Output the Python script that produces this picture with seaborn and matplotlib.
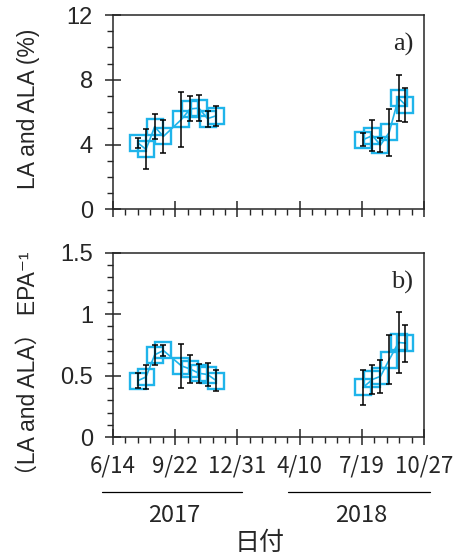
import numpy as np
import pandas as pd
import seaborn as sns
import matplotlib.pyplot as plt
from matplotlib.ticker import MultipleLocator, FuncFormatter

# sampling dates
origin = "2017-06-14"
dates_2017 = ["2017-07-24", "2017-08-06", "2017-08-20", "2017-09-03", "2017-10-02",
              "2017-10-16", "2017-10-30", "2017-11-13", "2017-11-27"]
dates_2018 = ["2018-07-21", "2018-08-05", "2018-08-18", "2018-09-01", "2018-09-16",
              "2018-09-27"]

# a) LA and ALA (%)
la_2017 = [4.1, 3.7, 5.1, 4.5, 5.55, 6.2, 6.25, 5.6, 5.78]
la_sd_2017 = [0.33, 1.23, 0.78, 1.02, 1.68, 0.77, 0.79, 0.5, 0.62]
la_2018 = [4.3, 4.55, 3.97, 4.75, 6.87, 6.45]
la_sd_2018 = [0.42, 0.97, 0.45, 1.44, 1.44, 1.03]

# b) (LA and ALA) EPA-1
ratio_2017 = [0.46, 0.49, 0.67, 0.705, 0.58, 0.555, 0.52, 0.51, 0.46]
ratio_sd_2017 = [0.06, 0.1, 0.08, 0.045, 0.176, 0.115, 0.075, 0.097, 0.085]
ratio_2018 = [0.405, 0.47, 0.495, 0.63, 0.77, 0.765]
ratio_sd_2018 = [0.14, 0.117, 0.133, 0.2, 0.25, 0.15]

xtick_labels = ["6/14", "9/22", "12/31", "4/10", "7/19", "10/27"]
years = ["2017", "2018"]

BLUE = "#1FB4EA"
CJK = ["Noto Sans CJK JP", "DejaVu Sans"]

sns.set_style("ticks")
plt.rcParams['font.family'] = ['Liberation Sans', 'Noto Sans CJK JP', 'DejaVu Sans']


def days(ds):
    return (pd.to_datetime(ds) - pd.Timestamp(origin)).days.values


def panel(ax, series):
    for ds, vals, sds in series:
        df = pd.DataFrame({"day": days(ds), "val": vals, "sd": sds})
        sns.lineplot(data=df, x="day", y="val", ax=ax, color=BLUE, lw=1.2,
                     marker="s", markersize=11.5, markerfacecolor="none",
                     markeredgecolor=BLUE, markeredgewidth=1.7, zorder=2)
        ax.errorbar(df["day"], df["val"], yerr=df["sd"], fmt="none", ecolor="black",
                    elinewidth=1.1, capsize=2, capthick=1.1, zorder=3)
    ax.set_xlim(0, 500)
    ax.xaxis.set_major_locator(MultipleLocator(100))
    ax.xaxis.set_minor_locator(MultipleLocator(20))
    ax.set_xlabel("")
    ax.set_ylabel("")
    for s in ax.spines.values():
        s.set_linewidth(1.1)
    ax.tick_params(which="major", direction="inout", length=11, width=1.1,
                   labelsize=17, pad=7)
    ax.tick_params(axis="y", which="major", pad=9)
    ax.tick_params(which="minor", direction="out", length=4, width=1.0)


fig = plt.figure(figsize=(4.67, 5.58), dpi=100)
ax1 = fig.add_axes([0.242, 0.625, 0.666, 0.348])
ax2 = fig.add_axes([0.242, 0.2163, 0.666, 0.331])

panel(ax1, [(dates_2017, la_2017, la_sd_2017), (dates_2018, la_2018, la_sd_2018)])
panel(ax2, [(dates_2017, ratio_2017, ratio_sd_2017), (dates_2018, ratio_2018, ratio_sd_2018)])

ax1.set_ylim(0, 12)
ax1.yaxis.set_major_locator(MultipleLocator(4))
ax1.yaxis.set_minor_locator(MultipleLocator(1))
ax1.set_xticklabels([])

ax2.set_ylim(0, 1.5)
ax2.yaxis.set_major_locator(MultipleLocator(0.5))
ax2.yaxis.set_minor_locator(MultipleLocator(0.1))
ax2.yaxis.set_major_formatter(FuncFormatter(lambda v, p: "{:g}".format(v)))
ax2.set_xticks(np.arange(0, 501, 100))
ax2.set_xticklabels(xtick_labels, family=CJK, fontsize=16)

ax1.text(0.965, 0.85, "a)", transform=ax1.transAxes, ha="right", va="center",
         family="Liberation Serif", fontsize=19)
ax2.text(0.965, 0.84, "b)", transform=ax2.transAxes, ha="right", va="center",
         family="Liberation Serif", fontsize=19)

fig.text(0.06, 0.805, "LA and ALA (%)", rotation=90, ha="center", va="center", fontsize=16.5)
fig.text(0.06, 0.339, "（LA and ALA） EPA⁻¹", rotation=90, ha="center", va="center",
         fontsize=16.5)

# year bars under the axis
fig.add_artist(plt.Line2D([0.218, 0.518], [0.1183, 0.1183], color="black", lw=0.9))
fig.add_artist(plt.Line2D([0.617, 0.921], [0.1183, 0.1183], color="black", lw=0.9))
fig.text(0.373, 0.077, years[0], ha="center", va="center", family=CJK, fontsize=17)
fig.text(0.773, 0.077, years[1], ha="center", va="center", family=CJK, fontsize=17)
fig.text(0.557, 0.027, "日付", ha="center", va="center", family=CJK, fontsize=18)

fig.savefig("out.png", dpi=100)
